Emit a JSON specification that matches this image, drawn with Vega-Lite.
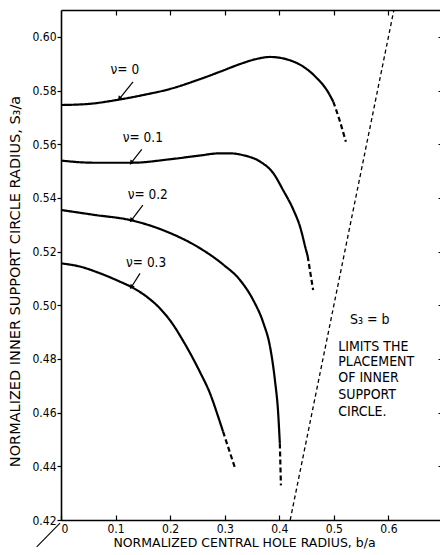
{
  "$schema": "https://vega.github.io/schema/vega-lite/v6.json",
  "width": 382,
  "height": 510,
  "autosize": {"type": "none"},
  "padding": {"left": 61, "top": 10, "right": 0, "bottom": 35},
  "background": "white",
  "config": {
    "view": {"stroke": null},
    "font": "DejaVu Sans Condensed",
    "axis": {
      "domainColor": "black",
      "domainWidth": 1.6,
      "tickColor": "black",
      "tickWidth": 1.2,
      "labelColor": "black",
      "labelFont": "DejaVu Sans Condensed",
      "labelFontSize": 12,
      "titleColor": "black",
      "titleFont": "DejaVu Sans",
      "titleFontSize": 13,
      "titleFontWeight": "normal",
      "grid": false
    }
  },
  "datasets": {
    "curves": [
      {"nu": "0", "part": "solid", "x": 0.0, "y": 0.5746},
      {"nu": "0", "part": "solid", "x": 0.05, "y": 0.5750},
      {"nu": "0", "part": "solid", "x": 0.10, "y": 0.5764},
      {"nu": "0", "part": "solid", "x": 0.15, "y": 0.5783},
      {"nu": "0", "part": "solid", "x": 0.20, "y": 0.5806},
      {"nu": "0", "part": "solid", "x": 0.25, "y": 0.5839},
      {"nu": "0", "part": "solid", "x": 0.29, "y": 0.5869},
      {"nu": "0", "part": "solid", "x": 0.33, "y": 0.5900},
      {"nu": "0", "part": "solid", "x": 0.355, "y": 0.5916},
      {"nu": "0", "part": "solid", "x": 0.383, "y": 0.5925},
      {"nu": "0", "part": "solid", "x": 0.414, "y": 0.5916},
      {"nu": "0", "part": "solid", "x": 0.444, "y": 0.5889},
      {"nu": "0", "part": "solid", "x": 0.469, "y": 0.5846},
      {"nu": "0", "part": "solid", "x": 0.487, "y": 0.5802},
      {"nu": "0", "part": "solid", "x": 0.499, "y": 0.5758},
      {"nu": "0", "part": "dashed", "x": 0.499, "y": 0.5758},
      {"nu": "0", "part": "dashed", "x": 0.511, "y": 0.5686},
      {"nu": "0", "part": "dashed", "x": 0.522, "y": 0.5609},
      {"nu": "0.1", "part": "solid", "x": 0.0, "y": 0.5539},
      {"nu": "0.1", "part": "solid", "x": 0.06, "y": 0.5531},
      {"nu": "0.1", "part": "solid", "x": 0.13, "y": 0.5531},
      {"nu": "0.1", "part": "solid", "x": 0.20, "y": 0.5544},
      {"nu": "0.1", "part": "solid", "x": 0.255, "y": 0.5558},
      {"nu": "0.1", "part": "solid", "x": 0.29, "y": 0.5566},
      {"nu": "0.1", "part": "solid", "x": 0.31, "y": 0.5566},
      {"nu": "0.1", "part": "solid", "x": 0.334, "y": 0.5559},
      {"nu": "0.1", "part": "solid", "x": 0.365, "y": 0.5535},
      {"nu": "0.1", "part": "solid", "x": 0.389, "y": 0.5492},
      {"nu": "0.1", "part": "solid", "x": 0.407, "y": 0.5429},
      {"nu": "0.1", "part": "solid", "x": 0.426, "y": 0.5355},
      {"nu": "0.1", "part": "solid", "x": 0.438, "y": 0.5293},
      {"nu": "0.1", "part": "solid", "x": 0.449, "y": 0.5206},
      {"nu": "0.1", "part": "solid", "x": 0.452, "y": 0.5183},
      {"nu": "0.1", "part": "dashed", "x": 0.452, "y": 0.5183},
      {"nu": "0.1", "part": "dashed", "x": 0.457, "y": 0.5120},
      {"nu": "0.1", "part": "dashed", "x": 0.462, "y": 0.5057},
      {"nu": "0.2", "part": "solid", "x": 0.0, "y": 0.5355},
      {"nu": "0.2", "part": "solid", "x": 0.06, "y": 0.5337},
      {"nu": "0.2", "part": "solid", "x": 0.13, "y": 0.5316},
      {"nu": "0.2", "part": "solid", "x": 0.194, "y": 0.5274},
      {"nu": "0.2", "part": "solid", "x": 0.255, "y": 0.5212},
      {"nu": "0.2", "part": "solid", "x": 0.297, "y": 0.5152},
      {"nu": "0.2", "part": "solid", "x": 0.328, "y": 0.5094},
      {"nu": "0.2", "part": "solid", "x": 0.352, "y": 0.5020},
      {"nu": "0.2", "part": "solid", "x": 0.371, "y": 0.4933},
      {"nu": "0.2", "part": "solid", "x": 0.383, "y": 0.4846},
      {"nu": "0.2", "part": "solid", "x": 0.392, "y": 0.4721},
      {"nu": "0.2", "part": "solid", "x": 0.398, "y": 0.4597},
      {"nu": "0.2", "part": "solid", "x": 0.401, "y": 0.4485},
      {"nu": "0.2", "part": "dashed", "x": 0.401, "y": 0.4485},
      {"nu": "0.2", "part": "dashed", "x": 0.403, "y": 0.4329},
      {"nu": "0.3", "part": "solid", "x": 0.0, "y": 0.5156},
      {"nu": "0.3", "part": "solid", "x": 0.035, "y": 0.5144},
      {"nu": "0.3", "part": "solid", "x": 0.0715, "y": 0.5119},
      {"nu": "0.3", "part": "solid", "x": 0.108, "y": 0.5088},
      {"nu": "0.3", "part": "solid", "x": 0.13, "y": 0.5067},
      {"nu": "0.3", "part": "solid", "x": 0.157, "y": 0.5032},
      {"nu": "0.3", "part": "solid", "x": 0.181, "y": 0.4989},
      {"nu": "0.3", "part": "solid", "x": 0.206, "y": 0.4926},
      {"nu": "0.3", "part": "solid", "x": 0.221, "y": 0.4877},
      {"nu": "0.3", "part": "solid", "x": 0.2547, "y": 0.4751},
      {"nu": "0.3", "part": "solid", "x": 0.273, "y": 0.4672},
      {"nu": "0.3", "part": "solid", "x": 0.288, "y": 0.4585},
      {"nu": "0.3", "part": "solid", "x": 0.297, "y": 0.4529},
      {"nu": "0.3", "part": "dashed", "x": 0.297, "y": 0.4529},
      {"nu": "0.3", "part": "dashed", "x": 0.319, "y": 0.4393}
    ],
    "labels": [
      {"label": "ν= 0", "x": 0.117, "y": 0.5876},
      {"label": "ν= 0.1", "x": 0.150, "y": 0.5625},
      {"label": "ν= 0.2", "x": 0.159, "y": 0.5411},
      {"label": "ν= 0.3", "x": 0.156, "y": 0.5157}
    ],
    "arrows": [
      {"nu": "0", "x1": 0.132, "y1": 0.5832, "x2": 0.108, "y2": 0.5772},
      {"nu": "0.1", "x1": 0.148, "y1": 0.5581, "x2": 0.1296, "y2": 0.5533},
      {"nu": "0.2", "x1": 0.150, "y1": 0.5373, "x2": 0.1296, "y2": 0.5318},
      {"nu": "0.3", "x1": 0.1448, "y1": 0.5119, "x2": 0.1296, "y2": 0.5070}
    ],
    "note": [
      {"text": "S₃ = b", "x": 0.5296, "y": 0.4945},
      {"text": "LIMITS THE", "x": 0.508, "y": 0.4846},
      {"text": "PLACEMENT", "x": 0.508, "y": 0.4790},
      {"text": "OF INNER", "x": 0.508, "y": 0.4730},
      {"text": "SUPPORT", "x": 0.508, "y": 0.4666},
      {"text": "CIRCLE.", "x": 0.508, "y": 0.4603}
    ],
    "limit": [
      {"x1": 0.42, "y1": 0.42, "x2": 0.61, "y2": 0.61}
    ],
    "corner": [
      {"x1": -0.0445, "y1": 0.4100, "x2": -0.0018, "y2": 0.4188}
    ]
  },
  "layer": [
    {
      "layer": [
        {
          "data": {"name": "curves"},
          "mark": {"type": "line", "color": "black", "strokeWidth": 2.2, "interpolate": "monotone", "clip": true},
          "encoding": {
            "x": {
              "field": "x", "type": "quantitative",
              "scale": {"domain": [0, 0.7], "nice": false, "zero": false},
              "axis": {
                "orient": "bottom",
                "values": [0, 0.1, 0.2, 0.3, 0.4, 0.5, 0.6],
                "labelExpr": "datum.value == 0 ? '0' : format(datum.value, '.1f')",
                "tickSize": -5,
                "labelPadding": 8,
                "title": "NORMALIZED CENTRAL HOLE RADIUS, b/a",
                "titleFontSize": 12.5,
                "titleX": 183,
                "titleY": 22,
                "titleBaseline": "middle",
                "titleAlign": "center"
              }
            },
            "y": {
              "field": "y", "type": "quantitative",
              "scale": {"domain": [0.42, 0.61], "nice": false, "zero": false},
              "axis": {
                "orient": "left",
                "values": [0.42, 0.44, 0.46, 0.48, 0.5, 0.52, 0.54, 0.56, 0.58, 0.6],
                "labelExpr": "format(datum.value, '.2f')",
                "tickSize": 4,
                "labelPadding": 1,
                "title": "NORMALIZED INNER SUPPORT CIRCLE RADIUS, S₃/a",
                "titleFontSize": 14.5,
                "titleX": -46,
                "titleY": 271,
                "titleAngle": -90,
                "titleBaseline": "middle",
                "titleAlign": "center"
              }
            },
            "detail": {"field": "nu"},
            "strokeDash": {
              "field": "part", "type": "nominal",
              "scale": {"domain": ["solid", "dashed"], "range": [[1, 0], [5, 3]]},
              "legend": null
            }
          }
        },
        {
          "data": {"name": "labels"},
          "mark": {"type": "text", "color": "black", "fontSize": 13.5, "font": "DejaVu Sans Condensed", "align": "center", "baseline": "middle"},
          "encoding": {
            "x": {"field": "x", "type": "quantitative", "scale": {"domain": [0, 0.7], "nice": false, "zero": false}},
            "y": {"field": "y", "type": "quantitative", "scale": {"domain": [0.42, 0.61], "nice": false, "zero": false}},
            "text": {"field": "label"}
          }
        },
        {
          "data": {"name": "arrows"},
          "mark": {"type": "rule", "color": "black", "strokeWidth": 1.2},
          "encoding": {
            "x": {"field": "x1", "type": "quantitative", "scale": {"domain": [0, 0.7], "nice": false, "zero": false}},
            "y": {"field": "y1", "type": "quantitative", "scale": {"domain": [0.42, 0.61], "nice": false, "zero": false}},
            "x2": {"field": "x2"},
            "y2": {"field": "y2"}
          }
        },
        {
          "data": {"name": "arrows"},
          "mark": {"type": "point", "shape": "triangle", "filled": true, "color": "black", "size": 28, "angle": 217, "opacity": 1},
          "encoding": {
            "x": {"field": "x2", "type": "quantitative", "scale": {"domain": [0, 0.7], "nice": false, "zero": false}},
            "y": {"field": "y2", "type": "quantitative", "scale": {"domain": [0.42, 0.61], "nice": false, "zero": false}}
          }
        },
        {
          "data": {"name": "note"},
          "mark": {"type": "text", "color": "black", "fontSize": 14, "font": "DejaVu Sans Condensed", "align": "left", "baseline": "middle"},
          "encoding": {
            "x": {"field": "x", "type": "quantitative", "scale": {"domain": [0, 0.7], "nice": false, "zero": false}},
            "y": {"field": "y", "type": "quantitative", "scale": {"domain": [0.42, 0.61], "nice": false, "zero": false}},
            "text": {"field": "text"}
          }
        },
        {
          "data": {"name": "corner"},
          "mark": {"type": "rule", "color": "black", "strokeWidth": 1.1},
          "encoding": {
            "x": {"field": "x1", "type": "quantitative", "scale": {"domain": [0, 0.7], "nice": false, "zero": false}},
            "y": {"field": "y1", "type": "quantitative", "scale": {"domain": [0.42, 0.61], "nice": false, "zero": false}},
            "x2": {"field": "x2"},
            "y2": {"field": "y2"}
          }
        }
      ]
    },
    {
      "data": {"name": "limit"},
      "mark": {"type": "rule", "color": "black", "strokeWidth": 1.3, "strokeDash": [4, 3]},
      "encoding": {
        "x": {
          "field": "x1", "type": "quantitative",
          "scale": {"domain": [0, 0.7], "nice": false, "zero": false},
          "axis": {"orient": "top", "values": [0.1, 0.2, 0.3, 0.4, 0.5, 0.6], "labels": false, "tickSize": -5, "title": null}
        },
        "y": {
          "field": "y1", "type": "quantitative",
          "scale": {"domain": [0.42, 0.61], "nice": false, "zero": false},
          "axis": {"orient": "right", "values": [0.44, 0.46, 0.48, 0.5, 0.52, 0.54, 0.56, 0.58, 0.6], "labels": false, "tickSize": -5, "title": null}
        },
        "x2": {"field": "x2"},
        "y2": {"field": "y2"}
      }
    }
  ],
  "resolve": {"axis": {"x": "independent", "y": "independent"}}
}
